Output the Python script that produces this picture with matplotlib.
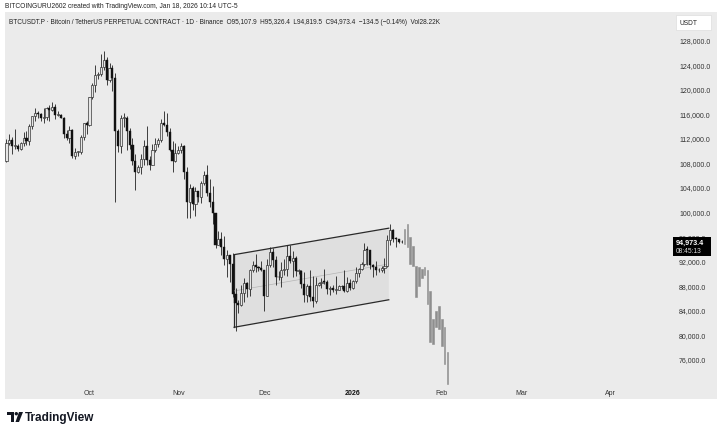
import numpy as np
import pandas as pd
import matplotlib
matplotlib.use("Agg")
import matplotlib.pyplot as plt
import matplotlib.dates as mdates
from matplotlib.patches import Rectangle, Polygon, Circle

plt.rcParams['font.family'] = ['Liberation Sans', 'DejaVu Sans']

# daily candles BTCUSDT.P, 2 Sep 2025 .. 18 Jan 2026 (thousands USDT)
first_open = 108.2
close = [111.2, 111.7, 110.7, 110.7, 110.2, 111.1, 112.0, 111.5, 113.9, 115.5,
         116.1, 115.9, 115.3, 115.4, 116.8, 116.5, 117.1, 115.7, 115.7, 115.3,
         112.7, 112.0, 113.3, 109.0, 109.7, 109.7, 112.1, 114.4, 114.1,
         118.6, 120.6, 122.3, 122.4, 123.5, 124.7, 121.4, 123.3, 121.7, 113.2,
         110.6, 115.2, 115.3, 113.1, 110.8, 108.2, 106.4, 107.2, 108.6, 110.6,
         108.4, 107.6, 110.1, 111.0, 111.6, 114.5, 114.1, 112.9, 110.0, 108.3, 109.6,
         110.1, 110.6, 106.5, 101.6, 103.9, 101.3, 103.4, 102.3, 104.7, 106.0,
         103.0, 101.6, 99.7, 94.6, 95.6, 94.2, 92.2, 92.9, 91.5, 86.6,
         85.1, 84.7, 86.8, 88.3, 87.4, 90.5, 91.3, 90.9, 90.8, 90.4,
         86.3, 91.3, 93.4, 92.1, 89.4, 89.3, 90.4, 90.6, 92.7, 92.0,
         92.5, 90.3, 90.3, 88.2, 86.4, 87.8, 86.1, 85.5, 88.1, 88.3,
         88.6, 88.5, 87.4, 87.6, 87.2, 87.3, 87.8, 87.8, 87.1, 88.4, 87.5,
         88.7, 90.0, 90.6, 91.4, 93.8, 93.7, 91.3, 91.0, 90.5, 90.4,
         90.8, 91.2, 95.4, 97.0, 95.6, 95.5, 95.1, 94.97]
high = [111.8, 112.6, 112.2, 113.4, 111.0, 111.3, 112.9, 113.2, 114.3, 115.5,
        116.8, 116.4, 116.0, 116.8, 117.0, 117.3, 117.9, 117.5, 116.3, 115.9,
        115.4, 113.3, 114.0, 113.5, 110.3, 109.8, 112.4, 114.5, 114.8,
        118.6, 121.0, 123.9, 122.8, 125.7, 126.2, 125.1, 124.2, 123.8, 122.6,
        113.5, 115.8, 116.0, 115.5, 113.6, 111.9, 109.3, 107.5, 109.4, 111.7,
        114.0, 109.0, 111.0, 112.0, 111.9, 115.0, 116.4, 116.0, 113.6, 111.5, 111.2,
        110.6, 111.2, 110.8, 107.3, 104.5, 104.2, 104.0, 103.4, 105.0, 106.6,
        107.5, 105.3, 104.1, 99.8, 96.8, 96.6, 96.0, 93.8, 92.9, 93.2,
        87.5, 85.6, 88.0, 89.2, 88.6, 90.7, 91.9, 93.1, 91.2, 92.0,
        90.4, 92.3, 94.2, 94.1, 92.7, 90.3, 91.8, 92.3, 94.6, 94.5,
        93.5, 92.7, 90.6, 90.5, 90.1, 88.2, 90.4, 89.5, 89.4, 88.6,
        89.1, 90.6, 88.9, 87.9, 88.0, 89.5, 88.0, 88.0, 90.4, 89.3, 89.0,
        88.9, 90.9, 90.8, 91.8, 94.8, 94.4, 93.7, 91.5, 91.9, 90.8,
        91.1, 92.4, 96.2, 97.9, 97.2, 95.9, 95.6, 95.33]
low = [108.0, 110.9, 109.3, 110.2, 109.9, 110.0, 110.7, 110.9, 110.9, 113.4,
       114.8, 115.2, 114.8, 114.4, 114.9, 114.7, 116.3, 115.1, 115.5, 115.2,
       111.9, 111.6, 111.1, 108.7, 108.6, 109.1, 109.3, 111.6, 112.7,
       113.9, 118.3, 119.4, 121.6, 122.0, 123.1, 120.6, 121.1, 119.6, 101.5,
       109.7, 109.6, 113.8, 110.0, 110.2, 107.5, 103.5, 106.3, 106.1, 107.5,
       107.5, 106.7, 107.5, 109.7, 110.5, 111.3, 113.9, 112.3, 109.8, 106.4, 108.0,
       109.4, 109.6, 105.3, 98.9, 98.9, 100.3, 99.3, 101.5, 101.4, 104.3,
       102.5, 100.8, 98.0, 94.0, 94.6, 93.0, 91.3, 89.3, 88.6, 86.1,
       80.6, 83.5, 84.6, 85.3, 86.1, 86.3, 90.1, 90.2, 90.3, 90.3,
       83.8, 86.2, 90.9, 90.9, 88.1, 88.9, 87.7, 89.6, 89.5, 91.6,
       89.3, 89.5, 89.8, 87.6, 85.2, 85.3, 85.4, 84.4, 85.1, 87.8,
       87.6, 88.2, 86.6, 86.4, 86.9, 86.6, 87.2, 87.4, 86.9, 86.9, 87.3,
       87.4, 88.3, 89.3, 90.4, 91.2, 91.3, 90.7, 89.3, 89.6, 90.2,
       90.2, 90.0, 90.9, 94.5, 95.0, 94.3, 94.8, 94.82]

# projected bars (grey), 19 Jan .. 3 Feb 2026
proj_high = [97.2, 98.0, 95.9, 94.4, 91.2, 91.0, 90.7, 91.0,
             90.4, 87.1, 82.5, 83.8, 84.6, 82.5, 81.2, 77.1]
proj_low = [94.7, 94.2, 91.5, 91.2, 86.1, 87.9, 89.1, 89.6,
            84.9, 78.8, 78.4, 81.2, 80.9, 78.1, 75.2, 71.9]

# rising channel drawing
chan_dates = ['2025-11-20 12:00', '2026-01-13 12:00']
chan_top = [92980, 97290]
chan_bot = [81150, 85630]

month_ticks = ['2025-10-01', '2025-11-01', '2025-12-01', '2026-01-01',
               '2026-02-01', '2026-03-01', '2026-04-01']
month_labels = ['Oct', 'Nov', 'Dec', '2026', 'Feb', 'Mar', 'Apr']
price_ticks = np.arange(76000, 128001, 4000)

c = np.array(close) * 1000
h = np.array(high) * 1000
l = np.array(low) * 1000
o = np.r_[first_open * 1000, c[:-1]]
dates = pd.date_range('2025-09-02', periods=len(c), freq='D')
pdates = pd.date_range('2026-01-19', periods=len(proj_high), freq='D')

W, H = 720, 435
fig = plt.figure(figsize=(7.2, 4.35), dpi=100)
fig.patch.set_facecolor('white')

# pixel overlay for frame, texts, logo
bg = fig.add_axes([0, 0, 1, 1], zorder=0)
bg.set_xlim(0, W)
bg.set_ylim(H, 0)
bg.axis('off')
bg.add_patch(Rectangle((5, 13), 712, 387, facecolor='#ebebeb', edgecolor='none'))

ax = fig.add_axes([5 / W, 49 / H, 663 / W, 373 / H], zorder=1)
ax.patch.set_alpha(0)
for s in ax.spines.values():
    s.set_visible(False)

# channel
cx = mdates.date2num(pd.to_datetime(chan_dates))
poly = [(cx[0], chan_top[0]), (cx[1], chan_top[1]), (cx[1], chan_bot[1]), (cx[0], chan_bot[0])]
ax.add_patch(Polygon(poly, closed=True, facecolor='#dfdfdf', edgecolor='none', zorder=1))
ax.plot(cx, chan_top, color='#2a2a2a', lw=0.9, zorder=2)
ax.plot(cx, chan_bot, color='#2a2a2a', lw=0.9, zorder=2)
ax.plot([cx[0], cx[0]], [chan_top[0], chan_bot[0]], color='#2a2a2a', lw=0.9, zorder=2)
ax.plot(cx, [(chan_top[0] + chan_bot[0]) / 2, (chan_top[1] + chan_bot[1]) / 2],
        color='#b5b5b5', lw=0.5, zorder=2)

# candles
up = c >= o
ax.vlines(dates, l, h, color='#222222', lw=0.6, zorder=3)
body_h = np.maximum(np.abs(c - o), 120)
ax.bar(dates[up], body_h[up], bottom=np.minimum(o, c)[up], width=0.75,
       facecolor='#e6e6e6', edgecolor='#222222', linewidth=0.45, zorder=4)
ax.bar(dates[~up], body_h[~up], bottom=np.minimum(o, c)[~up], width=0.75,
       facecolor='#111111', edgecolor='#111111', linewidth=0.3, zorder=4)

# projection
ph = np.array(proj_high) * 1000
pl = np.array(proj_low) * 1000
ax.bar(pdates, ph - pl, bottom=pl, width=0.6, facecolor='#8e8e8e',
       edgecolor='#8e8e8e', linewidth=0.4, zorder=3)

ax.set_xlim(mdates.date2num(pd.Timestamp('2025-09-01 12:00')),
            mdates.date2num(pd.Timestamp('2025-09-01 12:00')) + 663 / 2.864)
ax.set_ylim(71750, 132500)

ax.yaxis.tick_right()
ax.set_yticks(price_ticks)
ax.set_yticklabels([f'{v:,.1f}' for v in price_ticks], fontsize=5, color='#333333')
ax.tick_params(axis='y', length=0, pad=8)
ax.set_xticks(mdates.date2num(pd.to_datetime(month_ticks)))
ax.set_xticklabels(month_labels, fontsize=5, color='#333333')
ax.tick_params(axis='x', length=0, pad=3)
for t in ax.get_xticklabels():
    if t.get_text() == '2026':
        t.set_fontweight('bold')
        t.set_color('#111111')

# texts and labels on top
top = fig.add_axes([0, 0, 1, 1], zorder=5)
top.set_xlim(0, W)
top.set_ylim(H, 0)
top.axis('off')
top.text(5, 7, 'BITCOINGURU2602 created with TradingView.com, Jan 18, 2026 10:14 UTC-5',
         fontsize=4.8, color='#222222', va='center', ha='left')
top.text(9, 23, 'BTCUSDT.P · Bitcoin / TetherUS PERPETUAL CONTRACT · 1D · Binance  '
         'O95,107.9  H95,326.4  L94,819.5  C94,973.4  \u2212134.5 (\u22120.14%)  Vol28.22K',
         fontsize=4.7, color='#222222', va='center', ha='left')
top.add_patch(Rectangle((676, 16), 35, 15, facecolor='white', edgecolor='#dddddd', lw=0.5))
top.text(680, 23.5, 'USDT', fontsize=4.8, color='#222222', va='center', ha='left')

# last price label
top.add_patch(Rectangle((673, 238), 38, 19, facecolor='black', edgecolor='none'))
top.text(676, 243, '94,973.4', fontsize=5.2, color='white', fontweight='bold',
         va='center', ha='left')
top.text(676, 252, '08:45:13', fontsize=4.8, color='#dddddd', va='center', ha='left')

# TradingView logo
top.add_patch(Rectangle((7, 413), 7, 3, facecolor='#131722', edgecolor='none'))
top.add_patch(Rectangle((10.5, 413), 3.5, 10, facecolor='#131722', edgecolor='none'))
top.add_patch(Circle((16.3, 414.7), 1.7, facecolor='#131722', edgecolor='none'))
top.add_patch(Polygon([(19, 413), (23, 413), (19, 423), (15.5, 423)], closed=True,
                      facecolor='#131722', edgecolor='none'))
top.text(25, 418, 'TradingView', fontsize=8.5, fontweight='bold', color='#131722',
         va='center', ha='left')

fig.savefig('out.png', dpi=100, facecolor='white')
